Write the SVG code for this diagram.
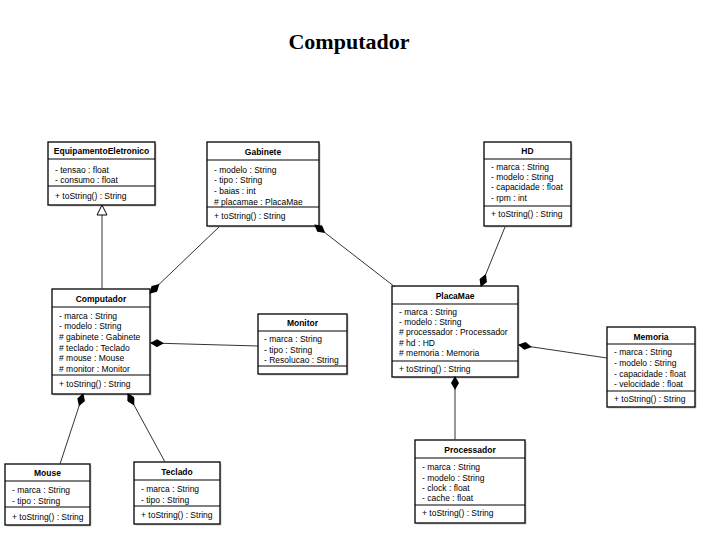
<svg xmlns="http://www.w3.org/2000/svg" width="711" height="548" viewBox="0 0 711 548">
<defs>
<style>
.box{fill:#fff;stroke:#000;stroke-width:1.3}
.sh{fill:#ccc}
.sep{stroke:#000;stroke-width:1}
.t{font-family:"Liberation Sans",Arial,sans-serif;font-size:8.5px;fill:#000}
.h{font-family:"Liberation Sans",Arial,sans-serif;font-size:8.5px;font-weight:bold;fill:#000;text-anchor:middle}
.ln{stroke:#333;stroke-width:1;fill:none}
</style>
<marker id="dia" viewBox="0 0 14 8" refX="13" refY="4" markerWidth="14" markerHeight="8" markerUnits="userSpaceOnUse" orient="auto">
<path d="M0,4 L7,0 L14,4 L7,8 Z" fill="#000"/>
</marker>
<marker id="tri" viewBox="0 0 12 12" refX="11" refY="6" markerWidth="12" markerHeight="12" markerUnits="userSpaceOnUse" orient="auto">
<path d="M1,1 L11,6 L1,11 Z" fill="#fff" stroke="#000" stroke-width="1"/>
</marker>
</defs>
<rect width="711" height="548" fill="#fff"/>
<text x="349" y="49" text-anchor="middle" font-family="Liberation Serif,'Times New Roman',serif" font-size="22" font-weight="bold">Computador</text>

<g id="EquipamentoEletronico">
<rect class="sh" x="49.5" y="143.5" width="107" height="63"/>
<rect class="box" x="48" y="142" width="107" height="63"/>
<line class="sep" x1="48" y1="159" x2="155" y2="159"/>
<line class="sep" x1="48" y1="186" x2="155" y2="186"/>
<text class="h" x="101.5" y="154">EquipamentoEletronico</text>
<text class="t" x="55" y="173">- tensao : float</text>
<text class="t" x="55" y="183">- consumo : float</text>
<text class="t" x="55" y="199">+ toString() : String</text>
</g>

<g id="Gabinete">
<rect class="sh" x="208.5" y="143.5" width="112" height="84"/>
<rect class="box" x="207" y="142" width="112" height="84"/>
<line class="sep" x1="207" y1="160" x2="319" y2="160"/>
<line class="sep" x1="207" y1="207" x2="319" y2="207"/>
<text class="h" x="263" y="155">Gabinete</text>
<text class="t" x="214" y="173">- modelo : String</text>
<text class="t" x="214" y="183">- tipo : String</text>
<text class="t" x="214" y="194">- baias : int</text>
<text class="t" x="214" y="205"># placamae : PlacaMae</text>
<text class="t" x="214" y="219">+ toString() : String</text>
</g>

<g id="HD">
<rect class="sh" x="485.5" y="143.5" width="87" height="84"/>
<rect class="box" x="484" y="142" width="87" height="84"/>
<line class="sep" x1="484" y1="159" x2="571" y2="159"/>
<line class="sep" x1="484" y1="206" x2="571" y2="206"/>
<text class="h" x="527.5" y="154">HD</text>
<text class="t" x="491" y="170">- marca : String</text>
<text class="t" x="491" y="180">- modelo : String</text>
<text class="t" x="491" y="190">- capacidade : float</text>
<text class="t" x="491" y="201">- rpm : int</text>
<text class="t" x="491" y="217">+ toString() : String</text>
</g>

<g id="Computador">
<rect class="sh" x="53.5" y="290.5" width="98" height="105"/>
<rect class="box" x="52" y="289" width="98" height="105"/>
<line class="sep" x1="52" y1="307" x2="150" y2="307"/>
<line class="sep" x1="52" y1="375" x2="150" y2="375"/>
<text class="h" x="101" y="302">Computador</text>
<text class="t" x="59" y="319">- marca : String</text>
<text class="t" x="59" y="329">- modelo : String</text>
<text class="t" x="59" y="340"># gabinete : Gabinete</text>
<text class="t" x="59" y="351"># teclado : Teclado</text>
<text class="t" x="59" y="361"># mouse : Mouse</text>
<text class="t" x="59" y="372"># monitor : Monitor</text>
<text class="t" x="59" y="387">+ toString() : String</text>
</g>

<g id="Monitor">
<rect class="sh" x="259.5" y="315.5" width="89" height="60"/>
<rect class="box" x="258" y="314" width="89" height="60"/>
<line class="sep" x1="258" y1="331" x2="347" y2="331"/>
<line class="sep" x1="258" y1="366" x2="347" y2="366"/>
<text class="h" x="302.5" y="326">Monitor</text>
<text class="t" x="264" y="342">- marca : String</text>
<text class="t" x="264" y="353">- tipo : String</text>
<text class="t" x="264" y="363">- Resolucao : String</text>
</g>

<g id="PlacaMae">
<rect class="sh" x="393.5" y="287.5" width="126" height="91"/>
<rect class="box" x="392" y="286" width="126" height="91"/>
<line class="sep" x1="392" y1="304" x2="518" y2="304"/>
<line class="sep" x1="392" y1="361" x2="518" y2="361"/>
<text class="h" x="455" y="299">PlacaMae</text>
<text class="t" x="399" y="315">- marca : String</text>
<text class="t" x="399" y="325">- modelo : String</text>
<text class="t" x="399" y="335"># processador : Processador</text>
<text class="t" x="399" y="346"># hd : HD</text>
<text class="t" x="399" y="356"># memoria : Memoria</text>
<text class="t" x="399" y="372">+ toString() : String</text>
</g>

<g id="Memoria">
<rect class="sh" x="608.5" y="328.5" width="88" height="80"/>
<rect class="box" x="607" y="327" width="88" height="80"/>
<line class="sep" x1="607" y1="344" x2="695" y2="344"/>
<line class="sep" x1="607" y1="391" x2="695" y2="391"/>
<text class="h" x="651" y="340">Memoria</text>
<text class="t" x="614" y="355">- marca : String</text>
<text class="t" x="614" y="366">- modelo : String</text>
<text class="t" x="614" y="377">- capacidade : float</text>
<text class="t" x="614" y="387">- velocidade : float</text>
<text class="t" x="614" y="402">+ toString() : String</text>
</g>

<g id="Processador">
<rect class="sh" x="416.5" y="441.5" width="110" height="83"/>
<rect class="box" x="415" y="440" width="110" height="83"/>
<line class="sep" x1="415" y1="458" x2="525" y2="458"/>
<line class="sep" x1="415" y1="505" x2="525" y2="505"/>
<text class="h" x="470" y="453">Processador</text>
<text class="t" x="422" y="470">- marca : String</text>
<text class="t" x="422" y="481">- modelo : String</text>
<text class="t" x="422" y="491">- clock : float</text>
<text class="t" x="422" y="501">- cache : float</text>
<text class="t" x="422" y="516">+ toString() : String</text>
</g>

<g id="Mouse">
<rect class="sh" x="6.5" y="465.5" width="85" height="61"/>
<rect class="box" x="5" y="464" width="85" height="61"/>
<line class="sep" x1="5" y1="481" x2="90" y2="481"/>
<line class="sep" x1="5" y1="507" x2="90" y2="507"/>
<text class="h" x="47.5" y="476">Mouse</text>
<text class="t" x="12" y="493">- marca : String</text>
<text class="t" x="12" y="504">- tipo : String</text>
<text class="t" x="12" y="520">+ toString() : String</text>
</g>

<g id="Teclado">
<rect class="sh" x="135.5" y="463.5" width="86" height="62"/>
<rect class="box" x="134" y="462" width="86" height="62"/>
<line class="sep" x1="134" y1="480" x2="220" y2="480"/>
<line class="sep" x1="134" y1="506" x2="220" y2="506"/>
<text class="h" x="177" y="475">Teclado</text>
<text class="t" x="141" y="492">- marca : String</text>
<text class="t" x="141" y="503">- tipo : String</text>
<text class="t" x="141" y="518">+ toString() : String</text>
</g>

<g id="connectors">
<line class="ln" x1="102" y1="289" x2="102" y2="205" marker-end="url(#tri)"/>
<line class="ln" x1="219" y1="227" x2="150" y2="293" marker-end="url(#dia)"/>
<line class="ln" x1="395" y1="287" x2="315" y2="225" marker-end="url(#dia)"/>
<line class="ln" x1="505" y1="227" x2="481" y2="286" marker-end="url(#dia)"/>
<line class="ln" x1="258" y1="346" x2="151" y2="343" marker-end="url(#dia)"/>
<line class="ln" x1="607" y1="358" x2="519" y2="345" marker-end="url(#dia)"/>
<line class="ln" x1="455" y1="440" x2="455" y2="377" marker-end="url(#dia)"/>
<line class="ln" x1="60" y1="464" x2="83" y2="394" marker-end="url(#dia)"/>
<line class="ln" x1="165" y1="462" x2="128" y2="394" marker-end="url(#dia)"/>
</g>
</svg>
